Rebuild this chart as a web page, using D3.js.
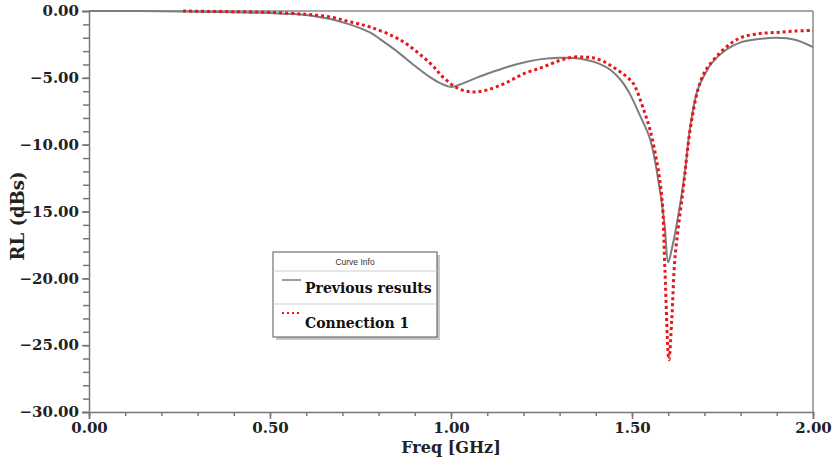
<!DOCTYPE html>
<html>
<head>
<meta charset="utf-8">
<script src="https://cdn.jsdelivr.net/npm/d3@7"></script>
<style>
  body { margin: 0; background: #fff; }
  svg { display: block; }
  .tick-label { font-family: "DejaVu Serif", serif; font-weight: bold; font-size: 15px; fill: #222; }
</style>
</head>
<body>
<svg width="837" height="458"></svg>
<script>
// DATA

var prevFreq = [0, 0.1, 0.2, 0.3, 0.4, 0.5, 0.6, 0.666, 0.72, 0.776, 0.804, 0.85, 0.9, 0.942, 0.97, 1.0,
  1.025, 1.07, 1.116, 1.16, 1.21, 1.25, 1.3, 1.34, 1.375, 1.41, 1.44, 1.47, 1.494, 1.52, 1.55, 1.577,
  1.59, 1.6, 1.61, 1.624, 1.646, 1.66, 1.68, 1.7, 1.72, 1.76, 1.8, 1.85, 1.9, 1.95, 2.0];
var prevRL = [0, 0, -0.02, -0.05, -0.1, -0.15, -0.3, -0.6, -1.0, -1.6, -2.1, -3.0, -4.1, -4.95, -5.4, -5.68,
  -5.5, -5.0, -4.55, -4.15, -3.8, -3.6, -3.5, -3.52, -3.67, -3.95, -4.4, -5.2, -6.2, -7.7, -9.6, -13.4,
  -16.0, -18.8, -17.8, -15.9, -12.1, -8.8, -6.0, -4.8, -3.9, -2.9, -2.35, -2.1, -2.0, -2.15, -2.7];

var connFreq = [0.26, 0.3, 0.4, 0.5, 0.6, 0.666, 0.72, 0.776, 0.86, 0.942, 0.98, 1.02, 1.06, 1.1, 1.15,
  1.2, 1.254, 1.3, 1.337, 1.37, 1.392, 1.42, 1.448, 1.48, 1.503, 1.514, 1.53, 1.55, 1.57, 1.583, 1.591,
  1.602, 1.61, 1.619, 1.641, 1.66, 1.682, 1.7, 1.715, 1.76, 1.8, 1.85, 1.9, 1.95, 2.0];
var connRL = [0, -0.02, -0.05, -0.1, -0.25, -0.45, -0.8, -1.2, -2.17, -3.9, -5.0, -5.8, -6.06, -5.9, -5.4,
  -4.7, -4.2, -3.7, -3.45, -3.45, -3.5, -3.75, -4.2, -4.8, -5.4, -6.0, -7.2, -8.9, -11.5, -14.1, -19.4,
  -26.1, -23.0, -18.4, -13.4, -9.0, -5.9, -4.6, -4.0, -2.7, -2.0, -1.7, -1.6, -1.5, -1.45];

var xTicks = [0, 0.5, 1.0, 1.5, 2.0];
var yTicks = [0, -5, -10, -15, -20, -25, -30];
var seriesNames = ["Previous results", "Connection 1"];

// SETUP

var svg = d3.select("svg"),
  margin = { left: 89, right: 24, top: 11, bottom: 46 },
  width = 837 - margin.left - margin.right,
  height = 458 - margin.top - margin.bottom;

var x = d3.scaleLinear().domain([0, 2]).range([0, width]),
  y = d3.scaleLinear().domain([-30, 0]).range([height, 0]);

var g = svg.append("g")
  .attr("transform", "translate(" + margin.left + "," + margin.top + ")");

var axisColor = "#777";

// frame top / right
g.append("line").attr("x1", 0).attr("x2", width).attr("y1", 0).attr("y2", 0)
  .attr("stroke", "#8a8a8a").attr("stroke-width", 1.5);
g.append("line").attr("x1", width).attr("x2", width).attr("y1", 0).attr("y2", height)
  .attr("stroke", "#8a8a8a").attr("stroke-width", 1.5);

// minor ticks
g.append("g")
  .attr("transform", "translate(0," + height + ")")
  .call(d3.axisBottom(x).tickValues(d3.range(0, 21).map(function (i) { return i / 10; }))
    .tickSize(4).tickFormat(""))
  .call(function (s) { s.select(".domain").remove(); s.selectAll("line").attr("stroke", axisColor).attr("stroke-width", 1.5); });

g.append("g")
  .call(d3.axisLeft(y).tickValues(d3.range(0, 31).map(function (i) { return -i; }))
    .tickSize(6).tickFormat(""))
  .call(function (s) { s.select(".domain").remove(); s.selectAll("line").attr("stroke", axisColor).attr("stroke-width", 1.5); });

// major axes
var xAxis = g.append("g")
  .attr("transform", "translate(0," + height + ")")
  .call(d3.axisBottom(x).tickValues(xTicks).tickSize(7).tickPadding(6)
    .tickFormat(d3.format(".2f")));

var yAxis = g.append("g")
  .call(d3.axisLeft(y).tickValues(yTicks).tickSize(7).tickPadding(3)
    .tickFormat(d3.format(".2f")));

[xAxis, yAxis].forEach(function (a) {
  a.select(".domain").attr("stroke", axisColor).attr("stroke-width", 1.5);
  a.selectAll("line").attr("stroke", axisColor).attr("stroke-width", 1.5);
  a.selectAll("text").attr("class", "tick-label").attr("font-family", null).attr("font-size", null);
});
xAxis.selectAll("text").attr("dy", "0.55em");

// axis titles
svg.append("text")
  .attr("x", 451).attr("y", 453)
  .attr("text-anchor", "middle")
  .style("font-family", "'DejaVu Serif', serif").style("font-weight", "bold").style("font-size", "16px")
  .style("fill", "#222")
  .text("Freq [GHz]");

svg.append("text")
  .attr("transform", "translate(24,216) rotate(-90)")
  .attr("text-anchor", "middle")
  .style("font-family", "'DejaVu Serif', serif").style("font-weight", "bold").style("font-size", "18px")
  .style("fill", "#222")
  .text("RL (dBs)");

// LINES

var line = d3.line()
  .x(function (d) { return x(d[0]); })
  .y(function (d) { return y(d[1]); })
  .curve(d3.curveCatmullRom.alpha(0.5));

var prevData = prevFreq.map(function (f, i) { return [f, prevRL[i]]; });
var connData = connFreq.map(function (f, i) { return [f, connRL[i]]; });

g.append("path")
  .datum(prevData)
  .attr("d", line)
  .attr("fill", "none")
  .attr("stroke", "#7d7d7d")
  .attr("stroke-width", 2);

g.append("path")
  .datum(connData)
  .attr("d", line)
  .attr("fill", "none")
  .attr("stroke", "#e8161b")
  .attr("stroke-width", 3)
  .attr("stroke-dasharray", "3,3");

// LEGEND

var lg = svg.append("g").attr("transform", "translate(273,252)");
var lw = 164, lh = 85;

lg.append("rect").attr("x", 3).attr("y", 3).attr("width", lw).attr("height", lh)
  .attr("fill", "#c8c8c8");
lg.append("rect").attr("width", lw).attr("height", lh)
  .attr("fill", "#fff").attr("stroke", "#555").attr("stroke-width", 1);

lg.append("text").attr("x", lw / 2).attr("y", 13)
  .attr("text-anchor", "middle")
  .style("font-family", "'Liberation Sans', Arial, sans-serif").style("font-size", "8.5px").style("fill", "#333")
  .text("Curve Info");

lg.append("line").attr("x1", 0).attr("x2", lw).attr("y1", 19).attr("y2", 19).attr("stroke", "#ccc");
lg.append("line").attr("x1", 0).attr("x2", lw).attr("y1", 52).attr("y2", 52).attr("stroke", "#ccc");

lg.append("line").attr("x1", 9).attr("x2", 28).attr("y1", 28).attr("y2", 28)
  .attr("stroke", "#7d7d7d").attr("stroke-width", 1.5);
lg.append("line").attr("x1", 9).attr("x2", 26).attr("y1", 61).attr("y2", 61)
  .attr("stroke", "#e8161b").attr("stroke-width", 2).attr("stroke-dasharray", "2,3");

lg.selectAll(".lbl")
  .data(seriesNames)
  .enter().append("text")
  .attr("class", "lbl")
  .attr("x", 32)
  .attr("y", function (d, i) { return 41 + i * 35; })
  .style("font-family", "'DejaVu Serif', serif").style("font-weight", "bold").style("font-size", "14px")
  .style("fill", "#111")
  .text(function (d) { return d; });
</script>
</body>
</html>
